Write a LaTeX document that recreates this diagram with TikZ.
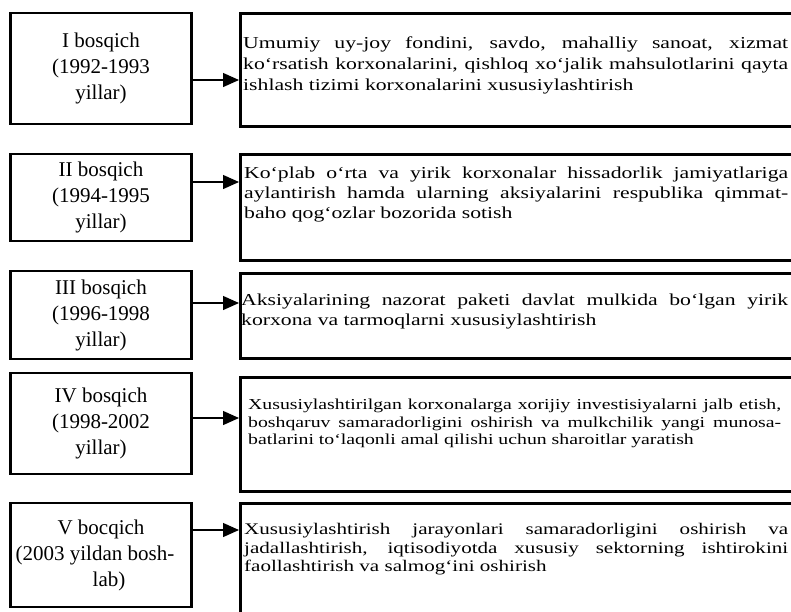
\documentclass[tikz,border=0pt]{standalone}
\usepackage{fontspec}
\setmainfont{Liberation Serif}
\newfontfamily\goalfont[FakeStretch=1.3]{Liberation Serif}
\usetikzlibrary{arrows.meta}
\newcommand{\fline}[2][540pt]{\makebox[#1][s]{#2}}

\begin{document}
\begin{tikzpicture}[x=1pt, y=-1pt,
    stage/.style={draw, line width=2.6pt, minimum width=181pt, align=center, inner sep=0pt,
      font=\fontsize{21}{26}\selectfont},
    goal/.style={draw, line width=2.6pt, minimum width=562pt, anchor=north west},
    goaltext/.style n args={2}{anchor=north west, inner sep=0pt, align=left,
      font=\goalfont\fontsize{#1}{#2}\selectfont},
    link/.style={line width=1.3pt, -{Triangle[length=16pt,width=14pt]}}]
        \path[use as bounding box, fill=white] (0,0) rectangle (791,611);

        % Stage I
        \node[stage, minimum height=111pt] (l1) at (101,68.5) {I bosqich\\(1992-1993\\yillar)};
        \node[goal, minimum height=113pt] (r1) at (239,12) {};
        \node[goaltext={16.7}{21}] (t1) at (243,36.4) {\fline[545pt]{Umumiy uy-joy fondini, savdo, mahalliy sanoat, xizmat}\\
            \fline[545pt]{ko‘rsatish korxonalarini, qishloq xo‘jalik mahsulotlarini qayta}\\
            ishlash tizimi korxonalarini xususiylashtirish};
        \coordinate (a1) at (0,80);
        \draw[link] (l1.east |- a1) -- (r1.west |- a1);

        % Stage II
        \node[stage, minimum height=87pt] (l2) at (101,197.5) {II bosqich\\(1994-1995\\yillar)};
        \node[goal, minimum height=106pt] (r2) at (239,153) {};
        \node[goaltext={16.7}{20}] (t2) at (244,166.4) {\fline[544pt]{Ko‘plab o‘rta va yirik korxonalar hissadorlik jamiyatlariga}\\
            \fline[544pt]{aylantirish hamda ularning aksiyalarini respublika qimmat-}\\
            baho qog‘ozlar bozorida sotish};
        \coordinate (a2) at (0,182);
        \draw[link] (l2.east |- a2) -- (r2.west |- a2);

        % Stage III
        \node[stage, minimum height=88pt] (l3) at (101,315) {III bosqich\\(1996-1998\\yillar)};
        \node[goaltext={16.7}{20}] (t3) at (241,293.4) {\fline[547pt]{Aksiyalarining nazorat paketi davlat mulkida bo‘lgan yirik}\\
            korxona va tarmoqlarni xususiylashtirish};
        \node[goal, minimum height=85pt] (r3) at (239,272) {};
        \coordinate (a3) at (0,303);
        \draw[link] (l3.east |- a3) -- (r3.west |- a3);

        % Stage IV
        \node[stage, minimum height=101pt] (l4) at (101,423.5) {IV bosqich\\(1998-2002\\yillar)};
        \node[goal, minimum height=114pt] (r4) at (239,376) {};
        \node[goaltext={15.2}{17.5}] (t4) at (248,399) {\fline[533pt]{Xususiylashtirilgan korxonalarga xorijiy investisiyalarni jalb etish,}\\
            \fline[533pt]{boshqaruv samaradorligini oshirish va mulkchilik yangi munosa-}\\
            batlarini to‘laqonli amal qilishi uchun sharoitlar yaratish};
        \coordinate (a4) at (0,418);
        \draw[link] (l4.east |- a4) -- (r4.west |- a4);

        % Stage V
        \node[stage, minimum height=104pt] (l5) at (101,555) {V bocqich\\\hspace*{-12pt}(2003 yildan bosh-\\\hspace*{16pt}lab)};
        \node[goal, minimum height=140pt] (r5) at (239,502) {};
        \node[goaltext={16.2}{18.5}] (t5) at (244,523.4) {\fline[544pt]{Xususiylashtirish jarayonlari samaradorligini oshirish va}\\
            \fline[544pt]{jadallashtirish, iqtisodiyotda xususiy sektorning ishtirokini}\\
            faollashtirish va salmog‘ini oshirish};
        \coordinate (a5) at (0,530);
        \draw[link] (l5.east |- a5) -- (r5.west |- a5);
    \end{tikzpicture}
\end{document}
